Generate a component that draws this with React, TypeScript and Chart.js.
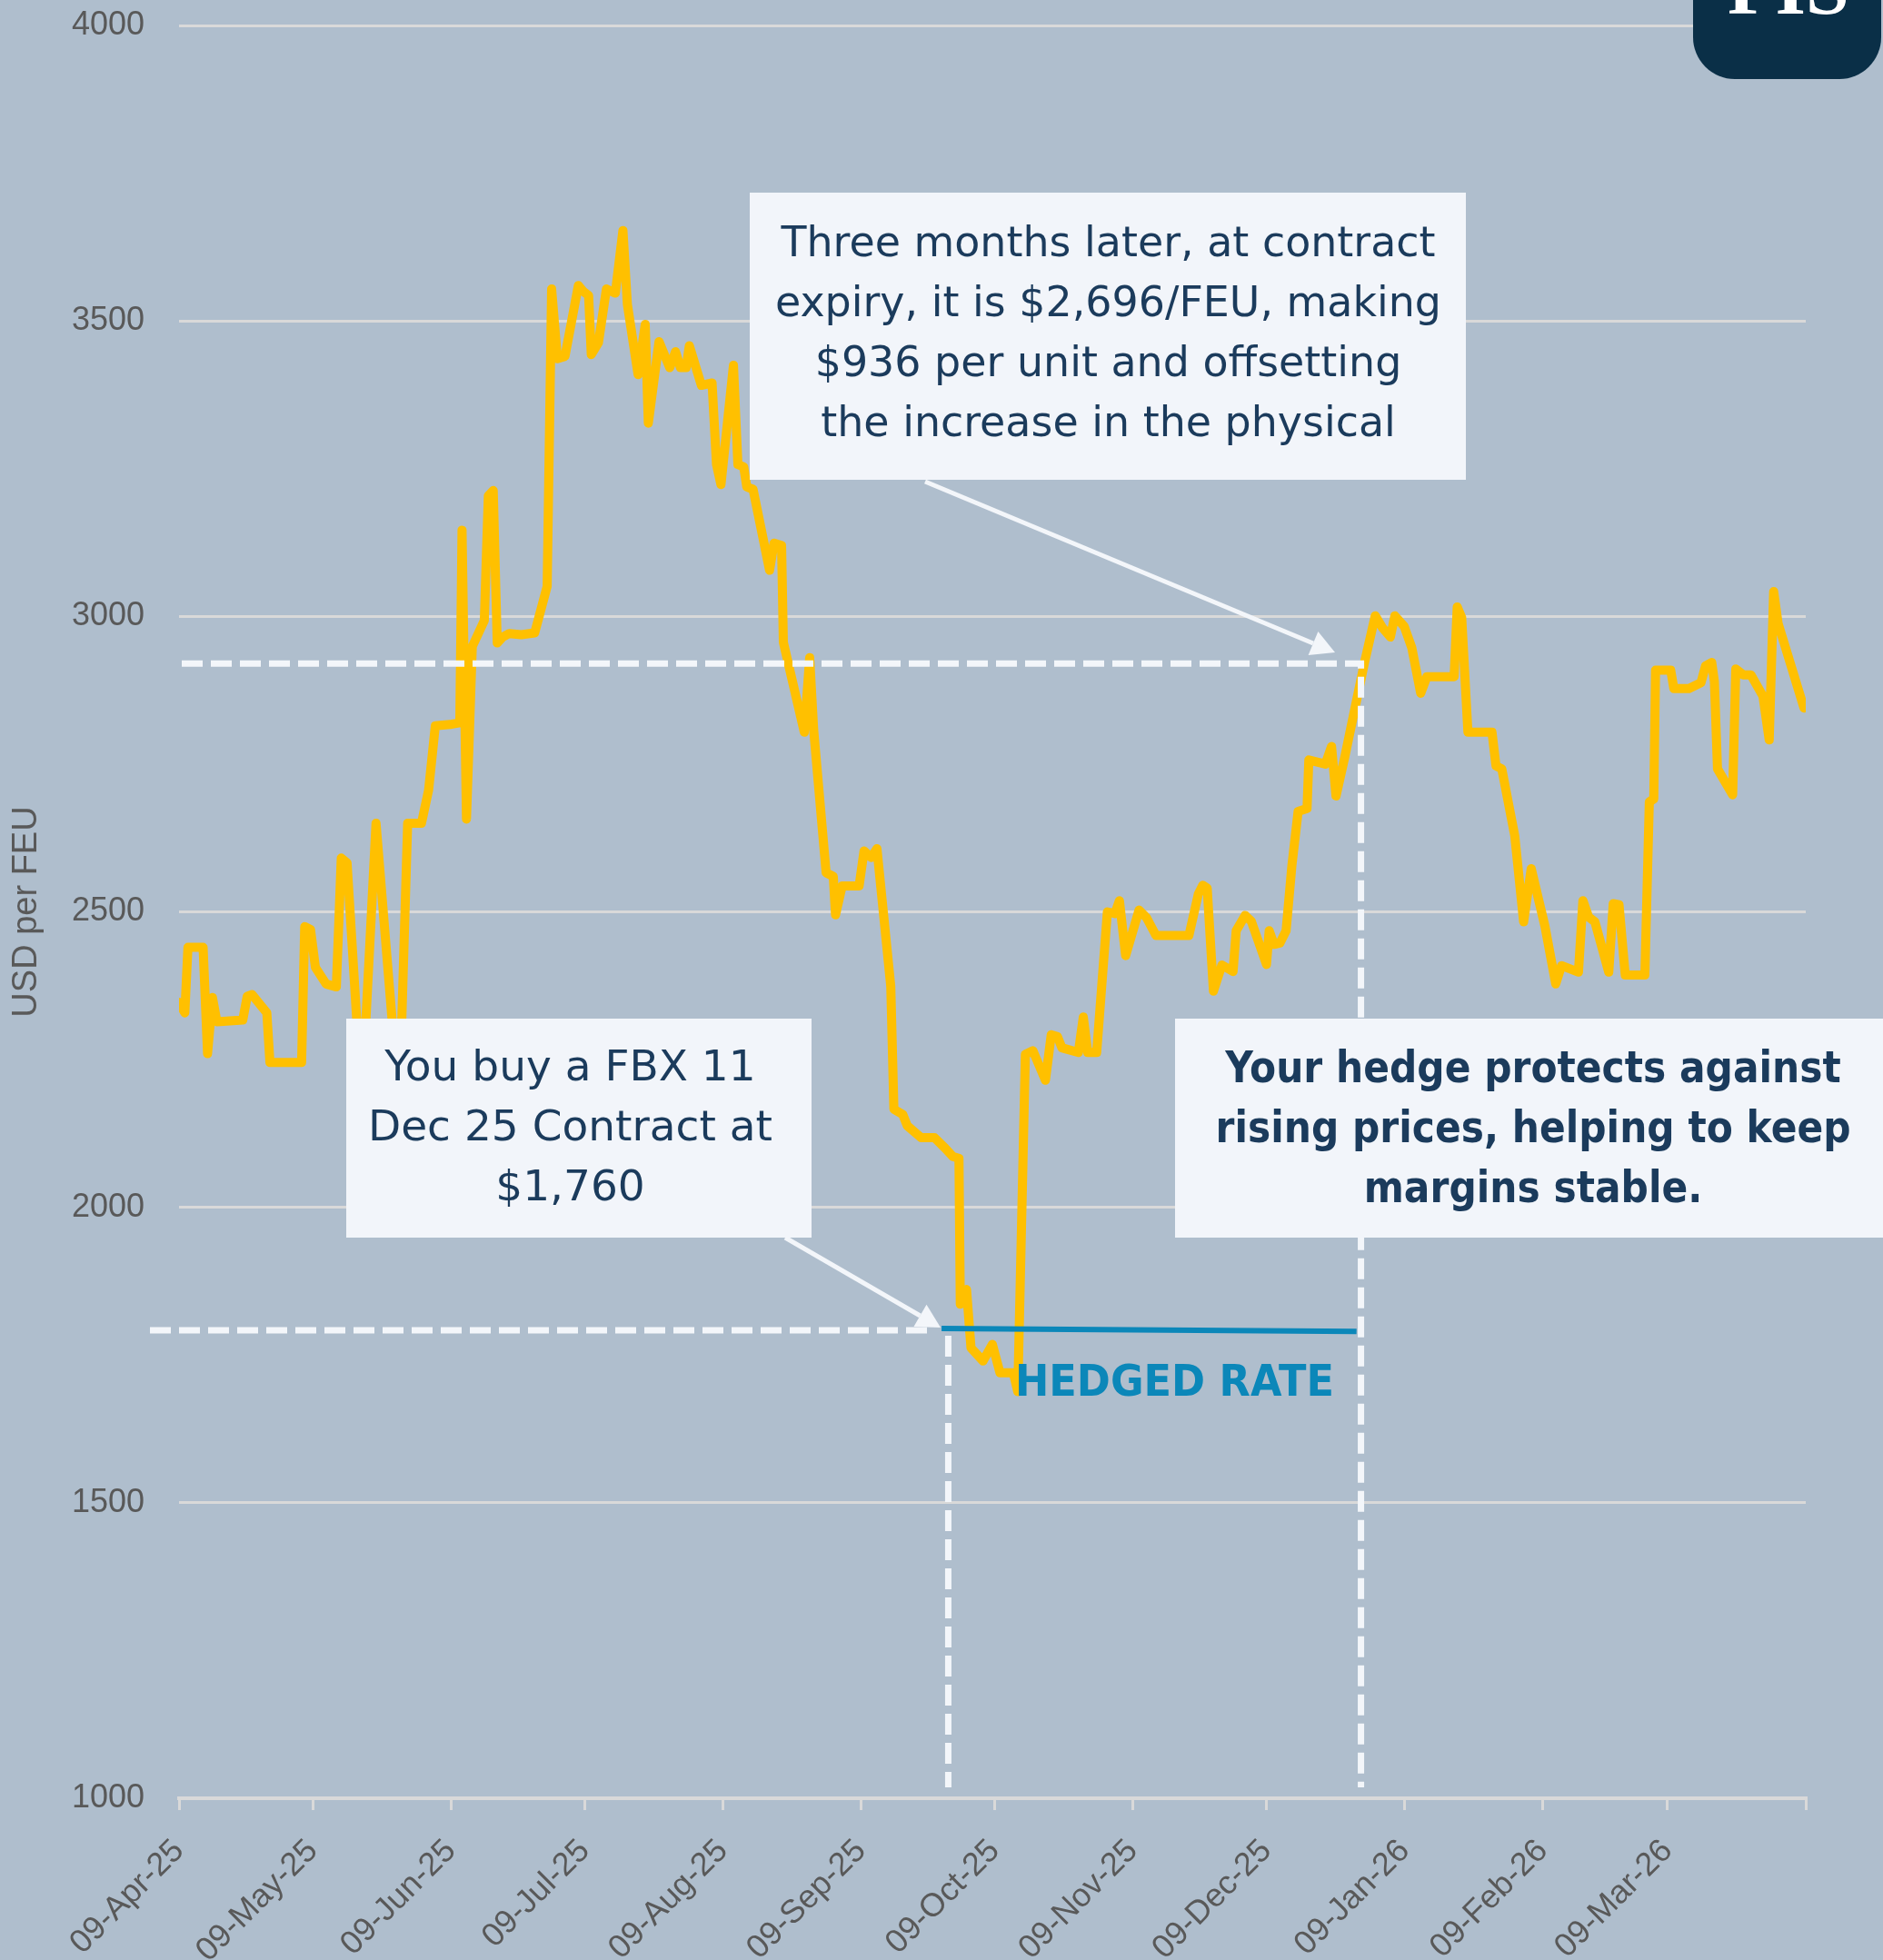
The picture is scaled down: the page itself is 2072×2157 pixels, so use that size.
import React, { useEffect, useRef } from "react";
import { Chart, registerables } from "chart.js";

Chart.register(...registerables);

// ---- Axis ticks ----
const xTickDays = [0, 30, 61, 91, 122, 153, 183, 214, 244, 275, 306, 334, 365];
const xTickLabels = [
  "09-Apr-25", "09-May-25", "09-Jun-25", "09-Jul-25", "09-Aug-25", "09-Sep-25",
  "09-Oct-25", "09-Nov-25", "09-Dec-25", "09-Jan-26", "09-Feb-26", "09-Mar-26", "",
];
const yMin = 1000;
const yMax = 4000;
const yStep = 500;

// ---- FBX series (days since 09-Apr-25, USD per FEU) ----
const dayOffsets = [
  0, 1.3, 2, 5.4, 6.4, 7.5, 8.5, 14.3, 15.3, 16.4, 19.7, 20.4, 27.5, 28.2, 29.5, 30.6, 33, 35.3, 36.4, 37.7,
  41, 44.2, 49.4, 51.3, 54.4, 56, 57.5, 60.8, 63, 63.5, 64.5, 65.8, 68.5, 69.4, 70.5, 71.4, 72.6, 74.1, 76.8, 79.8,
  82.6, 83.6, 84.9, 86.6, 89.6, 90.7, 91.9, 92.5, 94.1, 95.9, 97.9, 99.6, 100.6, 103, 104.6, 105.3, 107.7, 110.1, 111.4, 112.5,
  113.8, 114.5, 117.2, 119.6, 120.6, 121.6, 124.4, 125.4, 126.7, 127.4, 128.8, 132.5, 133.5, 135.2, 135.6, 140.3, 141.5, 142.4, 145.2, 146.8,
  147.3, 148.8, 152.6, 153.7, 155.3, 156.6, 159.7, 160.4, 162.4, 163.4, 166.5, 169.5, 171.9, 173.6, 175, 175.3, 176.7, 177.7, 180.4, 182.5,
  184.2, 187.2, 188.2, 189.9, 191.6, 194.4, 195.7, 197.1, 198.1, 201.8, 202.9, 203.9, 205.9, 208.3, 210, 211, 212.4, 215.4, 217.1, 219.2,
  226.6, 228.7, 229.7, 230.7, 232.1, 234, 236.5, 237.2, 239.2, 240.6, 244, 244.6, 245.7, 247, 248.4, 249.7, 251.1, 253.1, 253.5, 257.2,
  258.6, 259.6, 261.6, 264, 265, 266, 268.4, 270.1, 271.8, 272.8, 274.9, 276.6, 278.6, 280, 286.1, 286.8, 287.8, 289.2, 294.6, 295.5,
  296.8, 299.7, 301.7, 303.4, 306.5, 308.9, 310.2, 314, 315, 316.3, 317.7, 320.8, 321.8, 323.1, 324.5, 328.9, 329.9, 330.9, 331.3, 334.7,
  335.4, 338.8, 341.5, 342.5, 343.9, 344.5, 345.2, 348.6, 349.3, 351, 352.7, 355.4, 356.8, 357.8, 358.8, 364.6,
];
const fbxRates = [
  2347, 2329, 2440, 2440, 2260, 2355, 2314, 2317, 2357, 2360, 2329, 2245, 2245, 2475, 2470, 2406, 2378, 2373, 2591, 2583,
  2180, 2650, 2170, 2650, 2650, 2706, 2815, 2817, 2820, 3146, 2657, 2949, 2993, 3204, 3213, 2955, 2965, 2971, 2969, 2972,
  3051, 3554, 3436, 3440, 3560, 3550, 3543, 3443, 3463, 3554, 3547, 3653, 3528, 3409, 3494, 3327, 3465, 3421, 3448, 3421,
  3421, 3458, 3391, 3395, 3257, 3223, 3425, 3257, 3253, 3219, 3215, 3078, 3124, 3120, 2956, 2804, 2930, 2808, 2566, 2560,
  2495, 2544, 2544, 2603, 2592, 2607, 2374, 2166, 2157, 2138, 2118, 2118, 2100, 2086, 2083, 1836, 1861, 1762, 1740, 1768,
  1720, 1720, 1688, 2259, 2265, 2215, 2292, 2289, 2270, 2262, 2322, 2262, 2262, 2500, 2497, 2519, 2426, 2503, 2490, 2460,
  2460, 2530, 2545, 2540, 2366, 2410, 2399, 2468, 2494, 2484, 2411, 2468, 2445, 2447, 2468, 2578, 2670, 2675, 2757, 2750,
  2780, 2696, 2763, 2850, 2886, 2922, 3001, 2980, 2965, 3001, 2983, 2947, 2870, 2898, 2898, 3016, 2998, 2804, 2804, 2747,
  2742, 2629, 2483, 2573, 2475, 2378, 2409, 2398, 2519, 2491, 2483, 2398, 2514, 2512, 2393, 2393, 2686, 2691, 2909, 2909,
  2878, 2878, 2888, 2916, 2922, 2890, 2742, 2698, 2911, 2901, 2901, 2865, 2791, 3042, 2988, 2845,
];

// ---- Hedge annotation values ----
const hedgeLineDays = [171.1, 264.2];
const hedgeLineRates = [1795, 1790];
const hedgeStartDay = 172.6;
const hedgedRateLevel = 1792;
const expiryDay = 265.2;
const expiryRateLevel = 2920;

// ---- Annotation texts ----
const expiryNote = [
  "Three months later, at contract",
  "expiry, it is $2,696/FEU, making",
  "$936 per unit and offsetting",
  "the increase in the physical",
];
const buyNote = ["You buy a FBX 11", "Dec 25 Contract at", "$1,760"];
const hedgeNote = ["Your hedge protects against", "rising prices, helping to keep", "margins stable."];
const hedgedLabel = "HEDGED RATE";
const logoText = "FIS";

const GREY = "#595959";
const GRID = "#D9D9D9";
const NAVY = "#1B3B5C";
const BOX = "#F2F5FA";
const WHITE_LINE = "#F3F6FA";
const TEAL = "#0B87B9";
const TEXT_FAMILY = "'DejaVu Sans', 'Open Sans', sans-serif";
const AXIS_FAMILY = "'Liberation Sans', Arial, sans-serif";

// Draw centred lines at a given font size; squeeze horizontally if the widest line exceeds target width.
function drawLines(
  ctx: CanvasRenderingContext2D,
  lines: string[],
  weight: string,
  size: number,
  targetWidth: number,
  cx: number,
  firstBaseline: number,
  lineGap: number,
  color: string,
  align: CanvasTextAlign = "center"
) {
  ctx.font = `${weight} ${size}px ${TEXT_FAMILY}`;
  ctx.fillStyle = color;
  ctx.textAlign = align;
  ctx.textBaseline = "alphabetic";
  const widest = Math.max(...lines.map((l) => ctx.measureText(l).width));
  const k = widest > targetWidth ? targetWidth / widest : 1;
  lines.forEach((l, i) => {
    const w = ctx.measureText(l).width * k;
    ctx.fillText(l, cx, firstBaseline + i * lineGap, Math.max(1, w));
  });
}

function arrow(ctx: CanvasRenderingContext2D, x1: number, y1: number, x2: number, y2: number) {
  const a = Math.atan2(y2 - y1, x2 - x1);
  const hl = 26;
  const hw = 14;
  const bx = x2 - hl * Math.cos(a);
  const by = y2 - hl * Math.sin(a);
  ctx.setLineDash([]);
  ctx.strokeStyle = WHITE_LINE;
  ctx.fillStyle = WHITE_LINE;
  ctx.lineWidth = 5;
  ctx.lineCap = "butt";
  ctx.beginPath();
  ctx.moveTo(x1, y1);
  ctx.lineTo(bx, by);
  ctx.stroke();
  ctx.beginPath();
  ctx.moveTo(x2, y2);
  ctx.lineTo(bx - hw * Math.sin(a), by + hw * Math.cos(a));
  ctx.lineTo(bx + hw * Math.sin(a), by - hw * Math.cos(a));
  ctx.closePath();
  ctx.fill();
}

const overlayPlugin = {
  id: "hedgeOverlay",
  afterDatasetsDraw(chart: any) {
    const { ctx, chartArea, scales } = chart;
    const xs = scales.x;
    const ys = scales.y;
    ctx.save();

    // dashed reference lines
    const xe = xs.getPixelForValue(expiryDay);
    const ye = ys.getPixelForValue(expiryRateLevel);
    const xh = xs.getPixelForValue(hedgeStartDay);
    const yh = ys.getPixelForValue(hedgedRateLevel);
    const yb = chartArea.bottom - 12;
    ctx.strokeStyle = WHITE_LINE;
    ctx.lineWidth = 7;
    ctx.setLineDash([23, 9]);
    ctx.lineCap = "butt";
    ctx.beginPath();
    ctx.moveTo(chartArea.left + 3, ye);
    ctx.lineTo(xe, ye);
    ctx.lineTo(xe, yb);
    ctx.stroke();
    ctx.beginPath();
    ctx.moveTo(chartArea.left - 32, yh);
    ctx.lineTo(xh - 16, yh);
    ctx.stroke();
    ctx.beginPath();
    ctx.moveTo(xh, yh + 6);
    ctx.lineTo(xh, yb);
    ctx.stroke();
    ctx.setLineDash([]);

    // boxes
    ctx.fillStyle = BOX;
    ctx.fillRect(825, 212, 788, 316);
    ctx.fillRect(381, 1121, 512, 241);
    ctx.fillRect(1293, 1121, 779, 241);

    // box texts
    drawLines(ctx, expiryNote, "400", 47, 733, 1219.5, 282, 66, NAVY);
    drawLines(ctx, buyNote, "400", 47, 446, 627.5, 1189, 66, NAVY);
    drawLines(ctx, hedgeNote, "700", 48, 699, 1687, 1191, 66, NAVY);

    // arrows
    arrow(ctx, 1018, 530, 1469, 718);
    arrow(ctx, 864, 1362, 1035, 1461);

    // hedged rate label
    drawLines(ctx, [hedgedLabel], "700", 48, 351, 1117, 1536, 0, TEAL, "left");

    // logo
    ctx.fillStyle = "#0A2F47";
    ctx.beginPath();
    (ctx as any).roundRect(1863, -60, 207, 147, 46);
    ctx.fill();
    ctx.fillStyle = "#FFFFFF";
    ctx.font = `700 86px 'Liberation Serif', 'DejaVu Serif', serif`;
    ctx.textAlign = "center";
    ctx.textBaseline = "alphabetic";
    ctx.fillText(logoText, 1968, 15);

    ctx.restore();
  },
};

export default function App() {
  const canvasRef = useRef<HTMLCanvasElement | null>(null);

  useEffect(() => {
    if (!canvasRef.current) return;
    const fbxPoints = dayOffsets.map((d, i) => ({ x: d, y: fbxRates[i] }));
    const hedgePoints = hedgeLineDays.map((d, i) => ({ x: d, y: hedgeLineRates[i] }));
    const chart = new Chart(canvasRef.current, {
      type: "line",
      data: {
        datasets: [
          {
            label: "Hedged rate",
            data: hedgePoints,
            borderColor: TEAL,
            borderWidth: 6,
            pointRadius: 0,
            tension: 0,
            order: 0,
          },
          {
            label: "FBX 11",
            data: fbxPoints,
            borderColor: "#FFC000",
            borderWidth: 10,
            borderJoinStyle: "round",
            borderCapStyle: "round",
            pointRadius: 0,
            tension: 0,
            order: 1,
          },
        ],
      },
      options: {
        responsive: false,
        maintainAspectRatio: false,
        animation: false,
        devicePixelRatio: 1,
        layout: { padding: { left: 0, right: 85, top: 28, bottom: 0 } },
        plugins: { legend: { display: false }, tooltip: { enabled: false } },
        scales: {
          x: {
            type: "linear",
            min: 0,
            max: 365,
            afterBuildTicks: (s: any) => {
              s.ticks = xTickDays.map((v) => ({ value: v }));
            },
            afterFit: (s: any) => {
              s.height = 178;
              s.paddingLeft = 0;
              s.paddingRight = 0;
            },
            grid: { drawOnChartArea: false, drawTicks: true, tickLength: 13, color: GRID, lineWidth: 3 },
            border: { display: true, color: GRID, width: 4 },
            ticks: {
              autoSkip: false,
              maxRotation: 45,
              minRotation: 45,
              padding: 24,
              color: GREY,
              font: { family: AXIS_FAMILY, size: 36 },
              callback: (v: any) => {
                const i = xTickDays.indexOf(Number(v));
                return i >= 0 ? xTickLabels[i] : "";
              },
            },
          },
          y: {
            min: yMin,
            max: yMax,
            afterFit: (s: any) => {
              s.width = 197;
              s.paddingTop = 0;
              s.paddingBottom = 0;
            },
            grid: { color: GRID, lineWidth: 3, drawTicks: false },
            border: { display: false },
            ticks: {
              stepSize: yStep,
              padding: 38,
              color: GREY,
              font: { family: AXIS_FAMILY, size: 36 },
              callback: (v: any) => String(v),
            },
            title: {
              display: true,
              text: "USD per FEU",
              color: GREY,
              font: { family: AXIS_FAMILY, size: 38 },
              padding: { top: 7, bottom: 0 },
            },
          },
        },
      },
      plugins: [overlayPlugin],
    } as any);
    return () => chart.destroy();
  }, []);

  return (
    <div
      style={{
        position: "absolute",
        left: 0,
        top: 0,
        width: 2072,
        height: 2157,
        background: "#AFBECD",
        overflow: "hidden",
      }}
    >
      <canvas ref={canvasRef} width={2072} height={2157} style={{ display: "block" }} />
    </div>
  );
}
